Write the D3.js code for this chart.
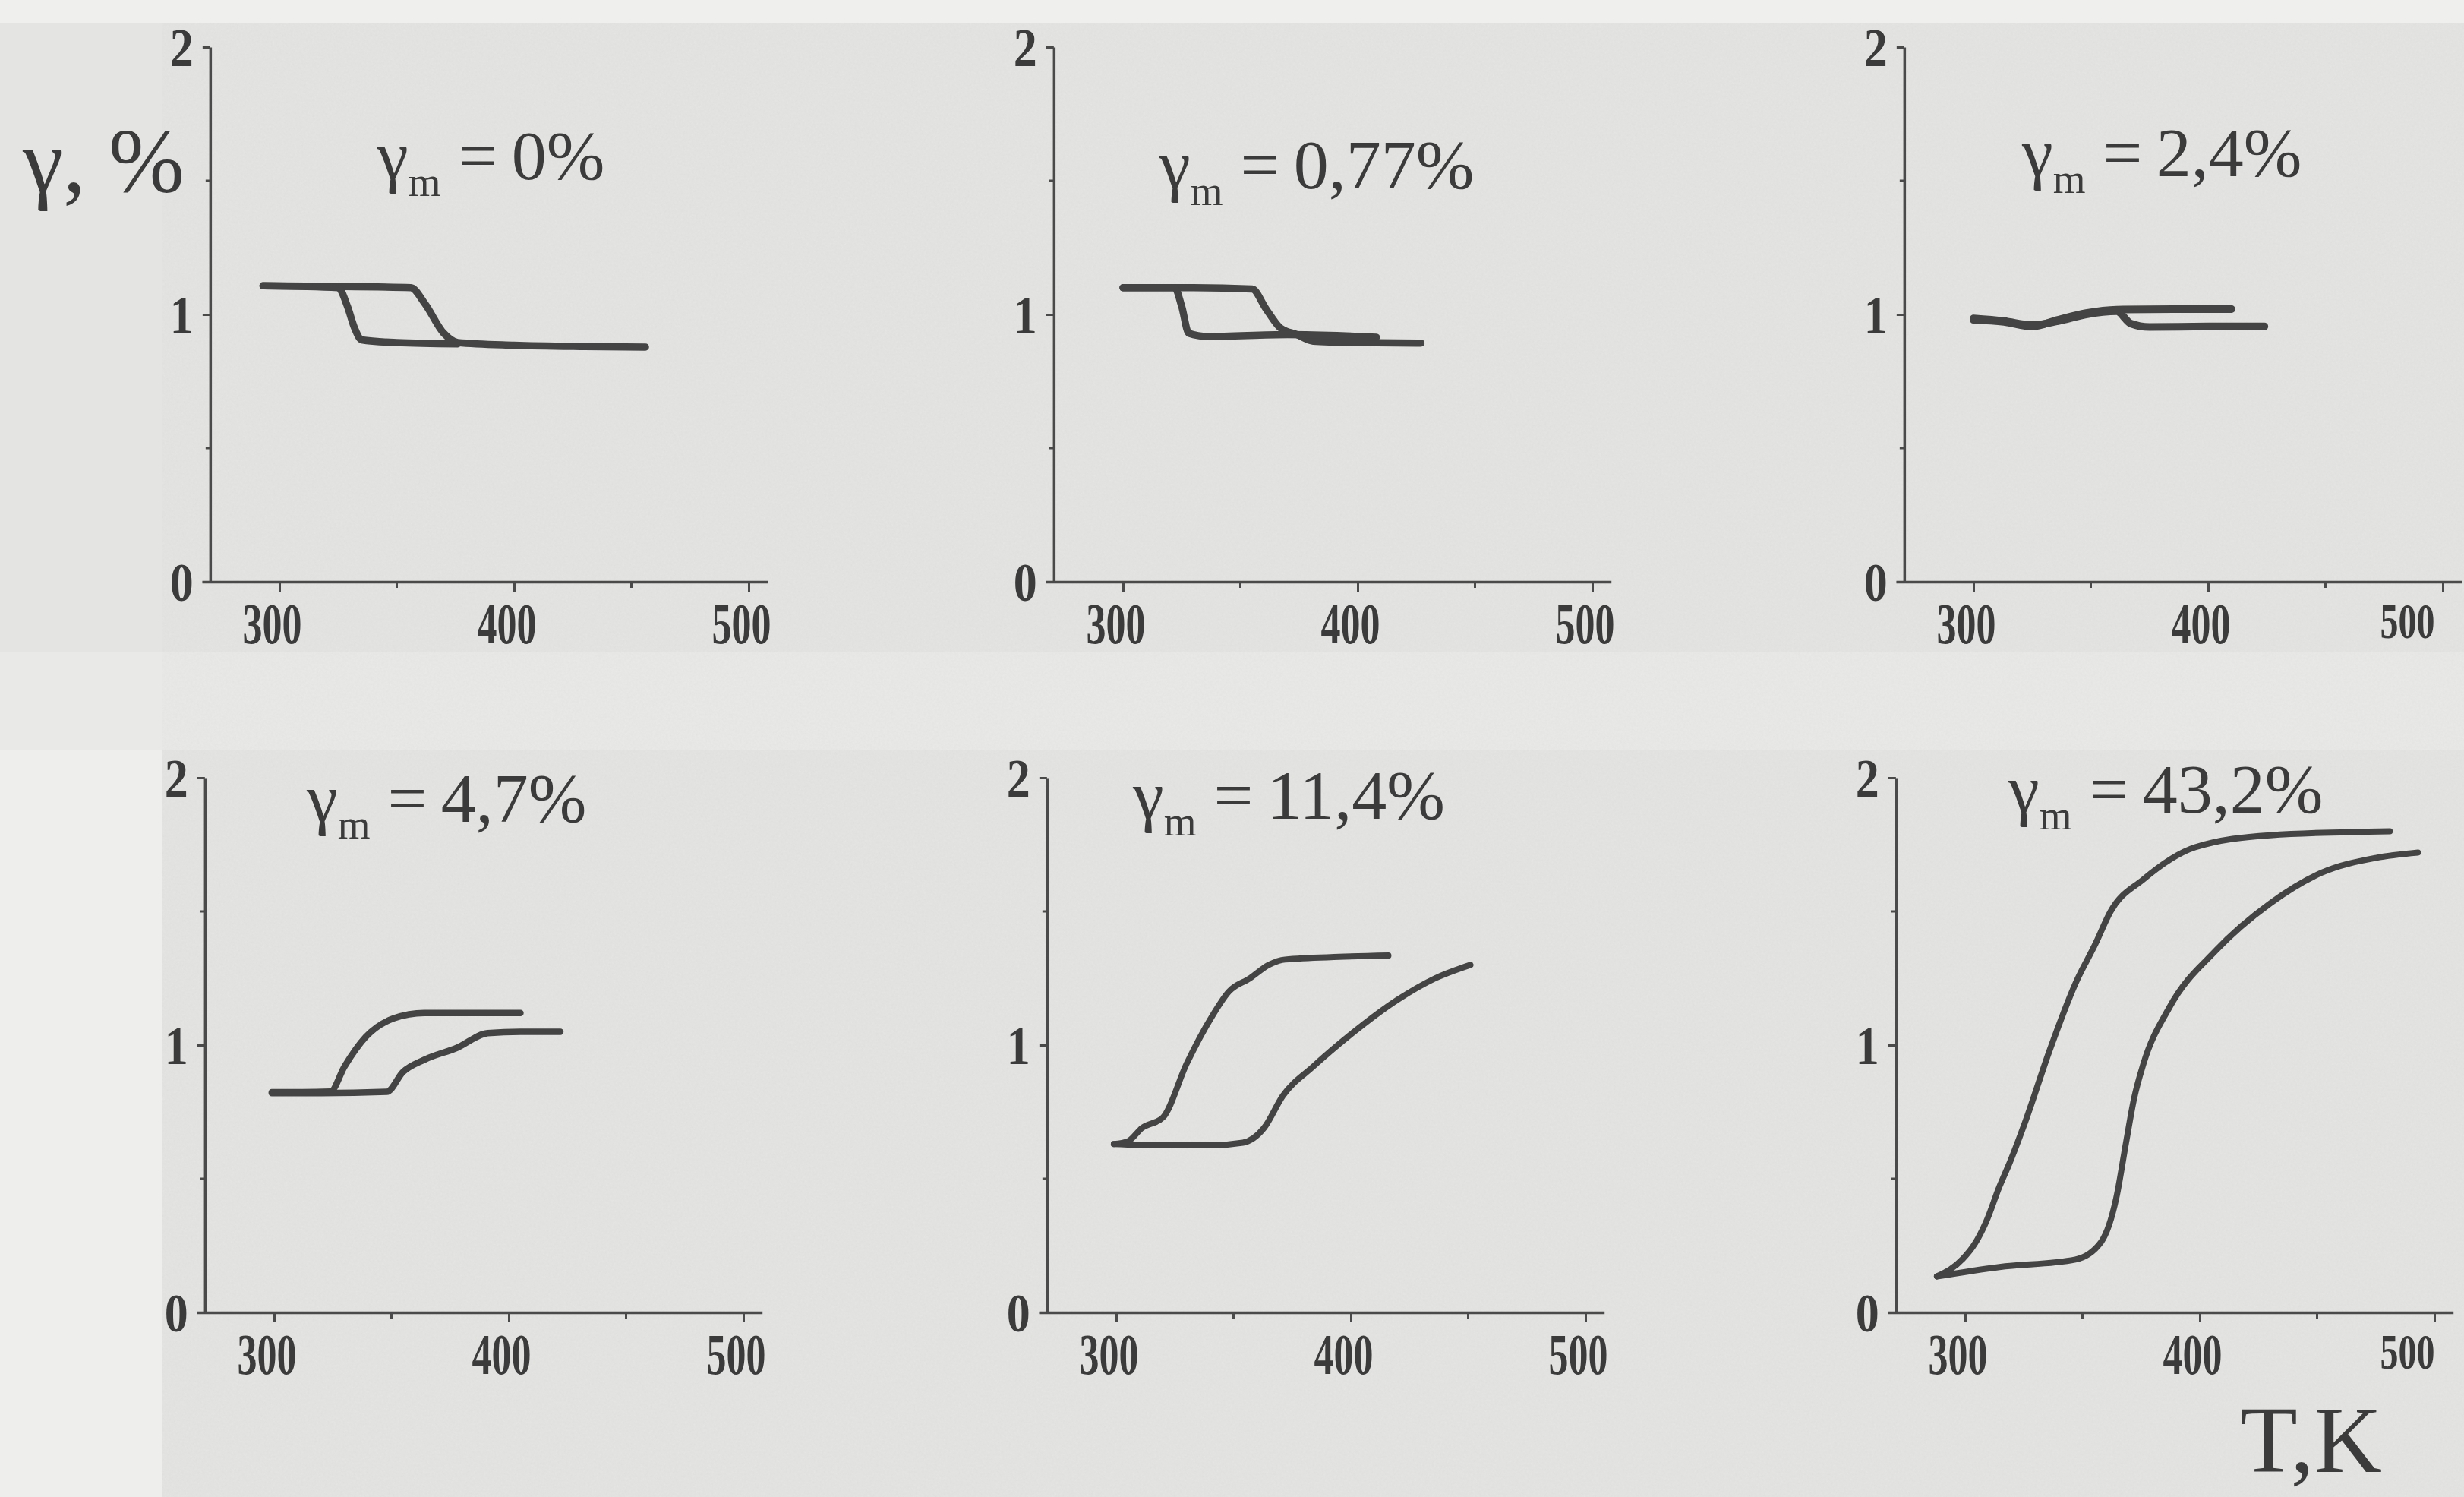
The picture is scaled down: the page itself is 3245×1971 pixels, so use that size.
<!DOCTYPE html>
<html>
<head>
<meta charset="utf-8">
<script src="https://cdn.jsdelivr.net/npm/d3@7"></script>
<style>
  html, body { margin: 0; padding: 0; background: #e4e4e2; }
  svg { display: block; }
  text { font-family: "Liberation Serif", "Times New Roman", serif; fill: #3b3b3b; }
</style>
</head>
<body>
<svg id="chart" width="3245" height="1971"></svg>
<script>
// tick values
const xTicks = [300, 400, 500];
const xMinor = [350, 450];
const yTicks = [0, 1, 2];
const yMinor = [0.5, 1.5];

// panel titles (gamma_m values)
const titles = ["0%", "0,77%", "2,4%", "4,7%", "11,4%", "43,2%"];

// curves, [T (K), gamma (%)]
const p1a = [[293, 1.107], [320, 1.105], [356, 1.10], [362, 1.04], [370, 0.93], [376, 0.895], [400, 0.885], [430, 0.88], [456, 0.878]];
const p1b = [[293, 1.107], [325, 1.10], [329, 1.03], [332, 0.95], [335, 0.905], [350, 0.895], [376, 0.89]];

const p2a = [[300, 1.10], [330, 1.10], [355, 1.095], [361, 1.02], [367, 0.95], [374, 0.925], [381, 0.90], [400, 0.895], [427, 0.893]];
const p2b = [[300, 1.10], [322, 1.10], [325, 1.03], [328, 0.93], [336, 0.918], [370, 0.925], [395, 0.92], [408, 0.915]];

const p3a = [[300, 0.98], [313, 0.972], [325, 0.955], [336, 0.98], [348, 1.005], [361, 1.018], [385, 1.02], [410, 1.02]];
const p3b = [[300, 0.985], [313, 0.975], [325, 0.96], [336, 0.975], [348, 1.0], [361, 1.012], [367, 0.966], [375, 0.953], [400, 0.955], [424, 0.955]];

const p4a = [[299, 0.824], [312, 0.824], [324, 0.826], [330, 0.92], [339, 1.03], [351, 1.10], [364, 1.12], [385, 1.12], [405, 1.12]];
const p4b = [[299, 0.82], [320, 0.82], [348, 0.825], [355, 0.90], [364, 0.945], [378, 0.99], [391, 1.045], [405, 1.05], [422, 1.05]];

const p5a = [[299, 0.63], [305, 0.64], [311, 0.69], [320, 0.73], [330, 0.93], [341, 1.11], [348, 1.20], [357, 1.25], [365, 1.30], [372, 1.32], [395, 1.33], [416, 1.335]];
const p5b = [[299, 0.63], [320, 0.625], [340, 0.625], [354, 0.635], [363, 0.69], [371, 0.81], [384, 0.92], [400, 1.04], [420, 1.17], [436, 1.25], [451, 1.30]];

const p6a = [[288, 0.135], [299, 0.2], [304, 0.255], [309, 0.34], [314.6, 0.47], [319, 0.56], [325.5, 0.71], [336, 0.98], [347, 1.23], [355.6, 1.38], [362, 1.50], [376, 1.62], [398, 1.74], [430, 1.785], [481, 1.80]];
const p6b = [[288, 0.135], [314.6, 0.17], [347, 0.198], [358, 0.264], [364.4, 0.427], [368.6, 0.636], [372, 0.8], [376, 0.93], [387, 1.14], [407, 1.355], [430, 1.53], [452, 1.645], [475, 1.70], [493, 1.72]];

const series = [[p1a, p1b], [p2a, p2b], [p3a, p3b], [p4a, p4b], [p5a, p5b], [p6a, p6b]];

// where each panel sits on the page
const panels = [
  { x300: 368,  y0: 766,  tx: 497,  ty: 236,  sw: 9.5 },
  { x300: 1479, y0: 766,  tx: 1527, ty: 248,  sw: 9.5 },
  { x300: 2599, y0: 766,  tx: 2663, ty: 232,  sw: 10 },
  { x300: 361,  y0: 1728, tx: 404,  ty: 1082, sw: 8.5 },
  { x300: 1470, y0: 1728, tx: 1492, ty: 1078, sw: 8 },
  { x300: 2588, y0: 1728, tx: 2645, ty: 1070, sw: 8 }
];
const pxPerK = 3.09;
const pxPerUnit = 352;
const W = 3245;

const svg = d3.select("#chart");

// paper background + lighter scan margins
svg.append("rect").attr("width", W).attr("height", 1971).attr("fill", "#e4e4e2");
svg.append("rect").attr("width", W).attr("height", 30).attr("fill", "#efefee");
svg.append("rect").attr("y", 858).attr("width", W).attr("height", 130).attr("fill", "#e9e9e8");
svg.append("rect").attr("y", 988).attr("width", 214).attr("height", 983).attr("fill", "#eeeeed");

// light grain
const defs = svg.append("defs");
const f = defs.append("filter").attr("id", "grain").attr("x", 0).attr("y", 0).attr("width", "100%").attr("height", "100%");
f.append("feTurbulence").attr("type", "fractalNoise").attr("baseFrequency", 0.35).attr("numOctaves", 2).attr("seed", 3);
f.append("feColorMatrix").attr("type", "matrix")
  .attr("values", "0 0 0 0 0.45  0 0 0 0 0.45  0 0 0 0 0.45  0 0 0 0.18 -0.02");
svg.append("rect").attr("x", 214).attr("y", 30).attr("width", W - 214).attr("height", 1941)
  .attr("filter", "url(#grain)").attr("opacity", 0.6);

const line = (x, y) => d3.line().x(d => x(d[0])).y(d => y(d[1])).curve(d3.curveMonotoneX);

panels.forEach((p, i) => {
  const x = d3.scaleLinear().domain([267, 508]).range([p.x300 - 33 * pxPerK, p.x300 + 208 * pxPerK]);
  const y = d3.scaleLinear().domain([0, 2]).range([p.y0, p.y0 - 2 * pxPerUnit]);
  const g = svg.append("g");
  // keep the last label inside the page on the right-hand panels
  const atEdge = d => d === 500 && x(500) > 3150;
  const edgeShift = Math.min(-10, 3170 - x(500));

  // x axis
  const xa = g.append("g").attr("transform", `translate(0,${p.y0})`)
    .call(d3.axisBottom(x).tickValues(xTicks).tickSize(13).tickSizeOuter(0).tickPadding(14));
  xa.select(".domain").attr("stroke", "#4a4a4a").attr("stroke-width", 3.5);
  xa.selectAll(".tick line").attr("stroke", "#4a4a4a").attr("stroke-width", 3);
  xa.selectAll(".tick text")
    .attr("font-size", d => atEdge(d) ? 66 : 76).attr("font-weight", "bold").attr("fill", "#3b3b3b")
    .attr("font-family", "Liberation Serif, serif")
    .attr("x", d => atEdge(d) ? edgeShift : -10)
    .attr("textLength", d => atEdge(d) ? 72 : 78)
    .attr("lengthAdjust", "spacingAndGlyphs");
  xa.selectAll(".minor").data(xMinor).enter().append("line")
    .attr("x1", d => x(d)).attr("x2", d => x(d)).attr("y1", 0).attr("y2", 8)
    .attr("stroke", "#4a4a4a").attr("stroke-width", 3);

  // y axis
  const yx = x(270.5);
  const ya = g.append("g").attr("transform", `translate(${yx},0)`)
    .call(d3.axisLeft(y).tickValues(yTicks).tickSize(10).tickSizeOuter(0).tickPadding(12).tickFormat(d3.format("d")));
  ya.select(".domain").attr("stroke", "#4a4a4a").attr("stroke-width", 3.5);
  ya.selectAll(".tick line").attr("stroke", "#4a4a4a").attr("stroke-width", 3);
  ya.selectAll(".tick text")
    .attr("font-size", 72).attr("font-weight", "bold").attr("fill", "#3b3b3b")
    .attr("font-family", "Liberation Serif, serif")
    .attr("dy", "0.34em")
    .attr("textLength", 31).attr("lengthAdjust", "spacingAndGlyphs");
  ya.selectAll(".minor").data(yMinor).enter().append("line")
    .attr("x1", -6).attr("x2", 0).attr("y1", d => y(d)).attr("y2", d => y(d))
    .attr("stroke", "#4a4a4a").attr("stroke-width", 3);

  // curves
  g.selectAll("path.curve").data(series[i]).enter().append("path")
    .attr("class", "curve")
    .attr("d", d => line(x, y)(d))
    .attr("fill", "none").attr("stroke", "#444").attr("stroke-width", p.sw)
    .attr("stroke-linecap", "round").attr("stroke-linejoin", "round");

  // title
  const t = g.append("text").attr("x", p.tx).attr("y", p.ty).attr("font-size", 92);
  t.append("tspan").text("γ");
  t.append("tspan").attr("font-size", 55).attr("dy", 22).text("m");
  t.append("tspan").attr("dy", -22).text(" =" + "\u2009" + titles[i]);
});

// axis names
svg.append("text").attr("x", 30).attr("y", 252).attr("font-size", 120).text("γ, %");
svg.append("text").attr("x", 2950).attr("y", 1938).attr("font-size", 124).text("T,K");
</script>
</body>
</html>
